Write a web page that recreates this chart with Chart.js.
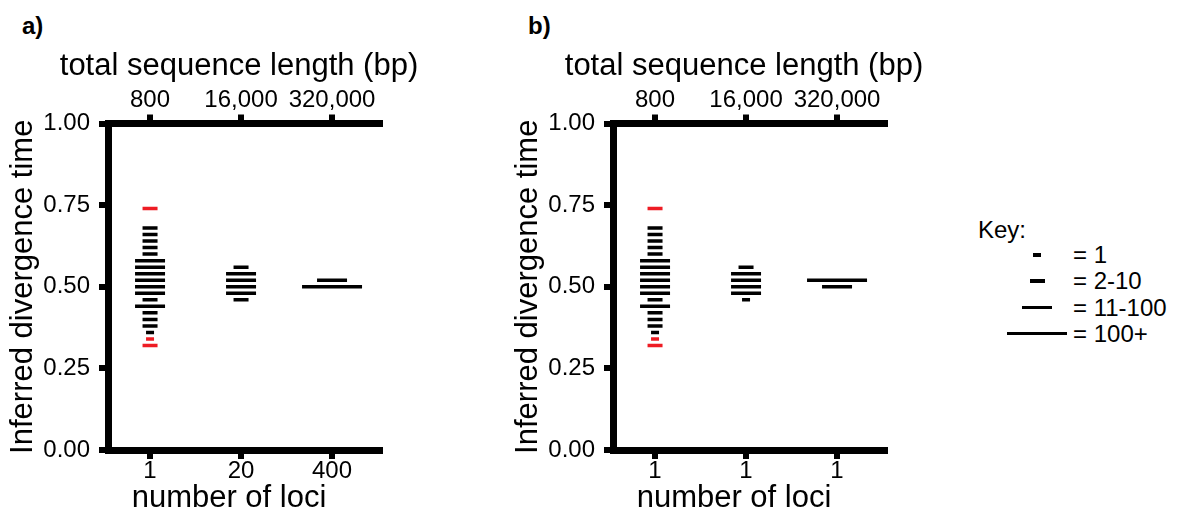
<!DOCTYPE html>
<html lang="en">
<head>
  <meta charset="UTF-8" />
  <title>Inferred divergence time</title>
  <script src="https://cdn.jsdelivr.net/npm/chart.js"></script>
  <style>
    html, body {
      margin: 0;
      padding: 0;
      background: #fff;
      width: 1180px;
      height: 512px;
      overflow: hidden;
      font-family: 'Liberation Sans', Arial, sans-serif;
      color: #000;
    }
    canvas { position: absolute; top: 0; }
    #chartA { left: 0; }
    #chartB { left: 505px; }
    .panel-label {
      position: absolute;
      top: 12px;
      font-weight: bold;
      font-size: 24px;
    }
    .key {
      position: absolute;
      left: 978px;
      top: 216px;
      font-size: 24px;
    }
    .key-row {
      position: absolute;
      left: 0;
      width: 200px;
      height: 28px;
    }
    .key-row .dash {
      position: absolute;
      top: 11px;
      height: 3.5px;
      background: #000;
    }
    .key-row span {
      position: absolute;
      left: 95px;
      top: -1px;
      white-space: nowrap;
    }
  </style>
</head>
<body>
  <div class="panel-label" style="left:22px">a)</div>
  <div class="panel-label" style="left:528px">b)</div>
  <canvas id="chartA" width="440" height="520"></canvas>
  <canvas id="chartB" width="440" height="520"></canvas>
  <div class="key" id="key"><div style="position:absolute;top:0;left:0">Key:</div></div>

  <script>
    // tick labels
    const seqLengthLabels = ["800", "16,000", "320,000"];
    const lociLabelsA = ["1", "20", "400"];
    const lociLabelsB = ["1", "1", "1"];
    const yTickValues = [0, 0.25, 0.5, 0.75, 1];

    // count bins: 1 = "1", 2 = "2-10", 3 = "11-100", 4 = "100+"
    const binLabels = ["= 1", "= 2-10", "= 11-100", "= 100+"];
    const binWidth = [0, 8, 15, 30, 60];

    // first column (same in both panels), red = outside the interval
    const col1Values = [0.74, 0.68, 0.66, 0.64, 0.62, 0.60, 0.58, 0.56, 0.54, 0.52, 0.50, 0.48, 0.46, 0.44, 0.42, 0.40, 0.38, 0.36, 0.34, 0.32];
    const col1Bins   = [2, 2, 2, 2, 2, 2, 3, 3, 3, 3, 3, 3, 2, 3, 2, 2, 2, 1, 1, 2];
    const col1Red    = [1, 0, 0, 0, 0, 0, 0, 0, 0, 0, 0, 0, 0, 0, 0, 0, 0, 0, 1, 1];

    // panel a
    const a2Values = [0.56, 0.54, 0.52, 0.50, 0.48, 0.46];
    const a2Bins   = [2, 3, 3, 3, 3, 2];
    const a3Values = [0.52, 0.50];
    const a3Bins   = [3, 4];

    // panel b
    const b2Values = [0.56, 0.54, 0.52, 0.50, 0.48, 0.46];
    const b2Bins   = [2, 3, 3, 3, 3, 1];
    const b3Values = [0.52, 0.50];
    const b3Bins   = [4, 3];

    const RED = "#ee1c24";
    const FONT = "'Liberation Sans', Arial, sans-serif";

    // x axis titles: the top one is wider than the plot and both sit a bit left of centre,
    // so they are drawn here instead of as scale titles
    const axisTitlesPlugin = {
      id: "axisTitles",
      afterDraw(chart, args, opts) {
        const { ctx, chartArea } = chart;
        const mid = (chartArea.left + chartArea.right) / 2;
        ctx.save();
        ctx.font = opts.size + "px " + FONT;
        ctx.fillStyle = "#000";
        ctx.textAlign = "center";
        ctx.textBaseline = "alphabetic";
        opts.items.forEach(t => ctx.fillText(t.text, mid + t.dx, t.baseline));
        ctx.restore();
      }
    };

    function column(x, values, bins, red) {
      return {
        data: values.map(v => ({ x: x, y: v })),
        pointStyle: "line",
        radius: ctx => binWidth[bins[ctx.dataIndex]] / 2,
        hoverRadius: ctx => binWidth[bins[ctx.dataIndex]] / 2,
        borderWidth: 3.5,
        hoverBorderWidth: 3.5,
        borderColor: ctx => (red && red[ctx.dataIndex]) ? RED : "#000",
        backgroundColor: "#000",
        showLine: false
      };
    }

    function axisCommon() {
      return {
        grid: { drawOnChartArea: false, drawTicks: true, tickLength: 9, lineWidth: 6, color: "#000" },
        border: { display: true, width: 7, color: "#000" }
      };
    }

    function makeChart(id, datasets, lociLabels) {
      const tickFont = { family: FONT, size: 24 };
      const titleFont = { family: FONT, size: 31 };
      const xMin = 0.538, xMax = 3.527;

      new Chart(document.getElementById(id), {
        type: "scatter",
        data: { datasets: datasets },
        plugins: [axisTitlesPlugin],
        options: {
          responsive: false,
          animation: false,
          layout: { autoPadding: false, padding: { left: 0, right: 60, top: 0, bottom: 0 } },
          plugins: {
            legend: { display: false },
            tooltip: { enabled: false },
            axisTitles: {
              size: 31,
              items: [
                { text: "total sequence length (bp)", baseline: 75, dx: -5 },
                { text: "number of loci", baseline: 507, dx: -15 }
              ]
            }
          },
          scales: {
            x: {
              type: "linear", position: "bottom", min: xMin, max: xMax,
              ...axisCommon(),
              afterBuildTicks: s => { s.ticks = [1, 2, 3].map(v => ({ value: v })); },
              ticks: { font: tickFont, color: "#000", padding: -2, maxRotation: 0, autoSkip: false,
                       callback: (v, i) => lociLabels[i] },
              afterFit: s => { s.height = 70; s.paddingLeft = 0; s.paddingRight = 0; }
            },
            x2: {
              type: "linear", position: "top", min: xMin, max: xMax,
              ...axisCommon(),
              afterBuildTicks: s => { s.ticks = [1, 2, 3].map(v => ({ value: v })); },
              ticks: { font: tickFont, color: "#000", padding: 0, maxRotation: 0, autoSkip: false,
                       callback: (v, i) => seqLengthLabels[i] },
              afterFit: s => { s.height = 123.5; s.paddingLeft = 0; s.paddingRight = 0; }
            },
            y: {
              type: "linear", position: "left", min: 0, max: 1,
              ...axisCommon(),
              afterBuildTicks: s => { s.ticks = yTickValues.map(v => ({ value: v })); },
              ticks: { font: tickFont, color: "#000", padding: 9, callback: v => v.toFixed(2) },
              title: { display: true, text: "Inferred divergence time", font: titleFont, color: "#000",
                       padding: { top: 5, bottom: 0 } },
              afterFit: s => { s.width = 108; s.paddingTop = 0; s.paddingBottom = 0; }
            }
          }
        }
      });
    }

    makeChart("chartA", [
      column(1, col1Values, col1Bins, col1Red),
      column(2, a2Values, a2Bins),
      column(3, a3Values, a3Bins)
    ], lociLabelsA);

    makeChart("chartB", [
      column(1, col1Values, col1Bins, col1Red),
      column(2, b2Values, b2Bins),
      column(3, b3Values, b3Bins)
    ], lociLabelsB);

    // key
    const key = document.getElementById("key");
    binLabels.forEach((label, i) => {
      const row = document.createElement("div");
      row.className = "key-row";
      row.style.top = (26 + i * 26.3) + "px";
      const w = binWidth[i + 1];
      const dash = document.createElement("div");
      dash.className = "dash";
      dash.style.width = w + "px";
      dash.style.left = (59 - w / 2) + "px";
      const text = document.createElement("span");
      text.textContent = label;
      row.appendChild(dash);
      row.appendChild(text);
      key.appendChild(row);
    });
  </script>
</body>
</html>
